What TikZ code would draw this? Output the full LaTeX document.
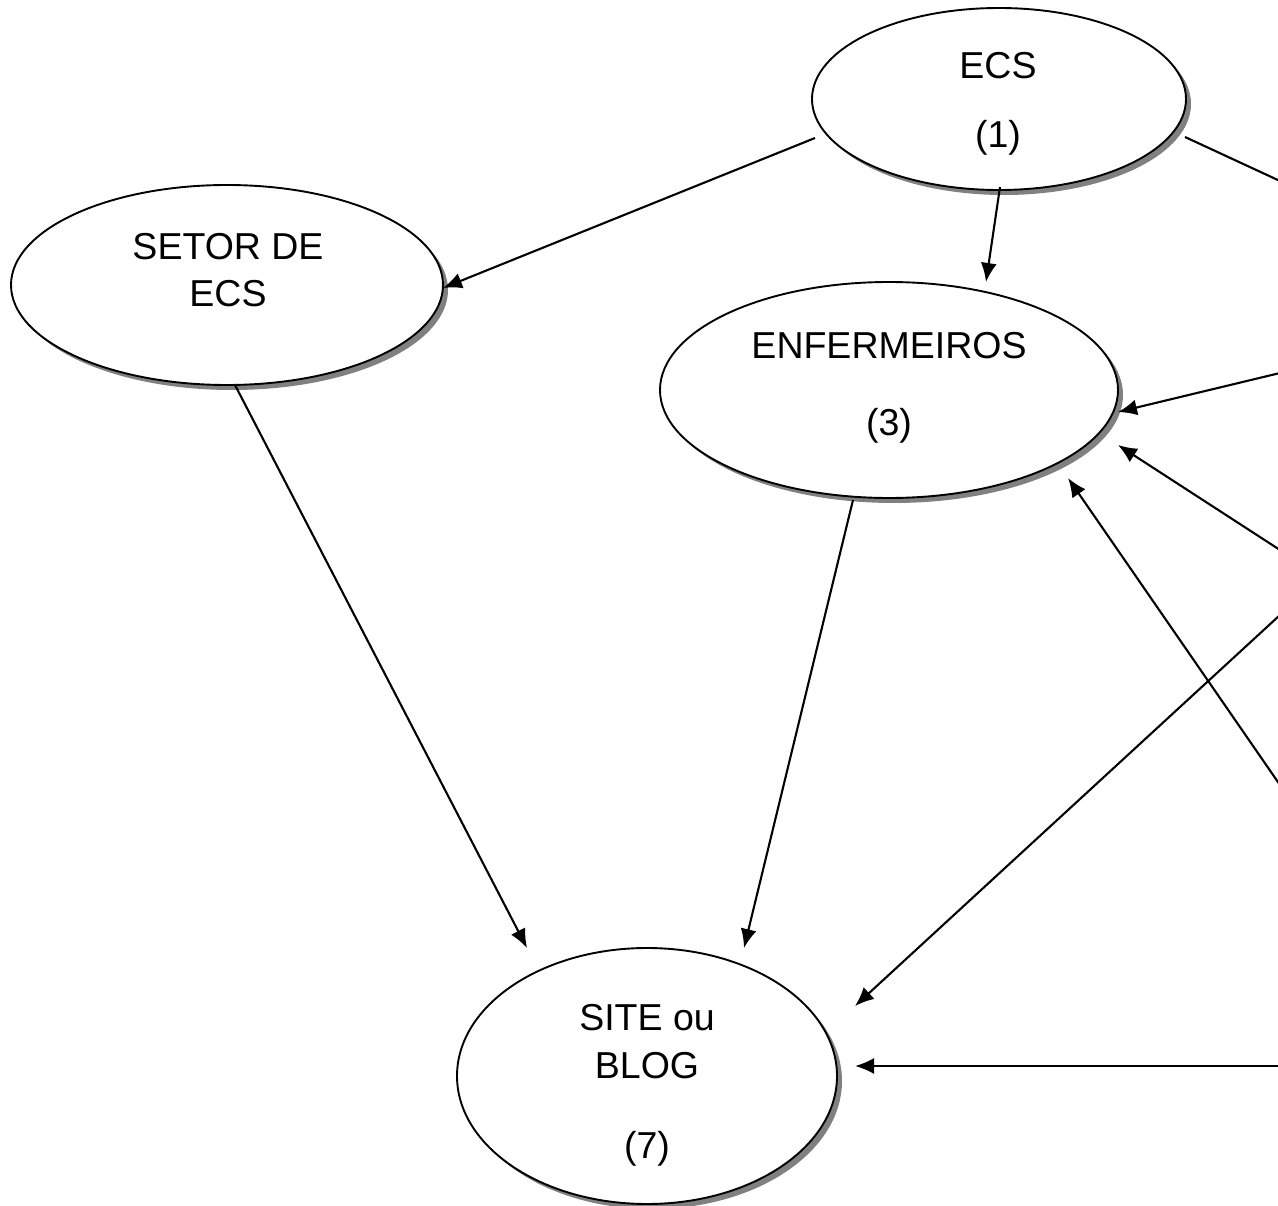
\documentclass[tikz,border=0pt]{standalone}
\usepackage{fontspec}
\setmainfont{Liberation Sans}
\usetikzlibrary{shapes.geometric,shadows,arrows.meta,calc}
\begin{document}
\begin{tikzpicture}[x=1pt,y=-1pt,
  oval/.style={ellipse,draw=black,line width=1.9pt,fill=white,inner sep=0pt,
    drop shadow={shadow xshift=5pt,shadow yshift=-5pt,fill=black!50,opacity=1}},
  lbl/.style={font=\fontsize{37.5}{45}\selectfont,inner sep=0pt,anchor=center},
  conn/.style={line width=2.1pt,-{Latex[length=19pt,width=16pt]}},
  plain/.style={line width=2.1pt}]
\useasboundingbox (0,0) rectangle (1278,1206);
% ellipses
\node[oval,minimum width=374pt,minimum height=182pt] (ecs) at (999,99) {};
\node[oval,minimum width=432pt,minimum height=200pt] (setor) at (227,285) {};
\node[oval,minimum width=458pt,minimum height=216pt] (enf) at (889,390) {};
\node[oval,minimum width=380pt,minimum height=256pt] (site) at (647,1076) {};
% texts
\node[lbl] (t1a) at (998,66) {ECS};
\node[lbl] (t1b) at (998,138) {(1)};
\node[lbl] (t2a) at (228,247) {SETOR DE};
\node[lbl] (t2b) at (228,294) {ECS};
\node[lbl] (t3a) at (889,346) {ENFERMEIROS};
\node[lbl] (t3b) at (889,426) {(3)};
\node[lbl] (t4a) at (647,1018) {SITE ou};
\node[lbl] (t4b) at (647,1066) {BLOG};
\node[lbl] (t4c) at (647,1149) {(7)};
% free ends at right edge
\coordinate (r1) at (1280,181);
\coordinate (r2) at (1280,373);
\coordinate (r3) at (1280,550);
\coordinate (r4) at (1280,615);
\coordinate (r5) at (1280,785);
\coordinate (r6) at (1280,1066);
% connectors
\draw[conn] ($(ecs)+(-184,39)$) -- ($(setor)+(216,3)$);
\draw[conn] ($(ecs)+(1,88)$) -- ($(enf)+(97,-108)$);
\draw[plain] ($(ecs)+(186,38)$) -- (r1);
\draw[conn] (r2) -- ($(enf)+(229,22)$);
\draw[conn] (r3) -- ($(enf)+(229,55)$);
\draw[conn] (r4) -- ($(site)+(208,-70)$);
\draw[conn] (r5) -- ($(enf)+(179,88)$);
\draw[conn] (r6) -- ($(site)+(208,-10)$);
\draw[conn] ($(setor)+(8,100)$) -- ($(site)+(-120,-128)$);
\draw[conn] ($(enf)+(-36,110)$) -- ($(site)+(97,-128)$);
\end{tikzpicture}
\end{document}
